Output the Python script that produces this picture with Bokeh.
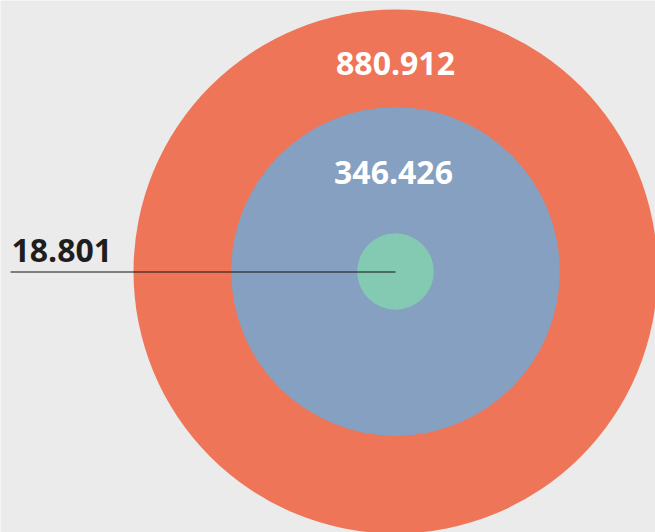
from bokeh.plotting import figure
from bokeh.models import Range1d, ColumnDataSource
from bokeh.core.properties import value
from bokeh.embed import file_html
from bokeh.resources import INLINE
import math

# Data
labels = ["880.912", "346.426", "18.801"]
values = [880.912, 346.426, 18.801]
colors = ["#EE7557", "#86A0C1", "#84C9B1"]

# Layout (screen-like coordinates, y downwards)
W, H = 655, 532
cx, cy = 395, 271
k = 262 / math.sqrt(max(values))
radii = [k * math.sqrt(v) for v in values]

p = figure(width=W, height=H, output_backend="svg", toolbar_location=None,
           x_range=Range1d(0, W), y_range=Range1d(H, 0),
           min_border=0, outline_line_color=None)
p.axis.visible = False
p.grid.visible = False
p.background_fill_color = "#EBEBEB"
p.border_fill_color = "#EBEBEB"

src = ColumnDataSource(dict(x=[cx] * 3, y=[cy] * 3, r=radii, c=colors))
p.circle(x="x", y="y", radius="r", fill_color="c", line_color=None, source=src)

# Labels for the two big rings: centred between the ring's top and the next ring's top
tops = [cy - r for r in radii]
offs = [5, 2]
big_y = [(tops[i] + tops[i + 1]) / 2 + offs[i] for i in range(2)]
p.text(x=[cx, cx - 2], y=big_y, text=labels[:2], text_align="center",
       text_baseline="middle", text_color="white", text_font=value("Open Sans"),
       text_font_size="32px", text_font_style="bold")

# Small value: leader line to the centre
p.line(x=[10, cx], y=[cy + 0.5, cy + 0.5], line_color="#111111", line_width=1)
p.text(x=[11], y=[cy - 21], text=[labels[2]], text_align="left",
       text_baseline="alphabetic", text_color="#1E1E1E", text_font=value("Open Sans"),
       text_font_size="32px", text_font_style="bold")

open("out.html", "w").write(file_html(p, INLINE))
